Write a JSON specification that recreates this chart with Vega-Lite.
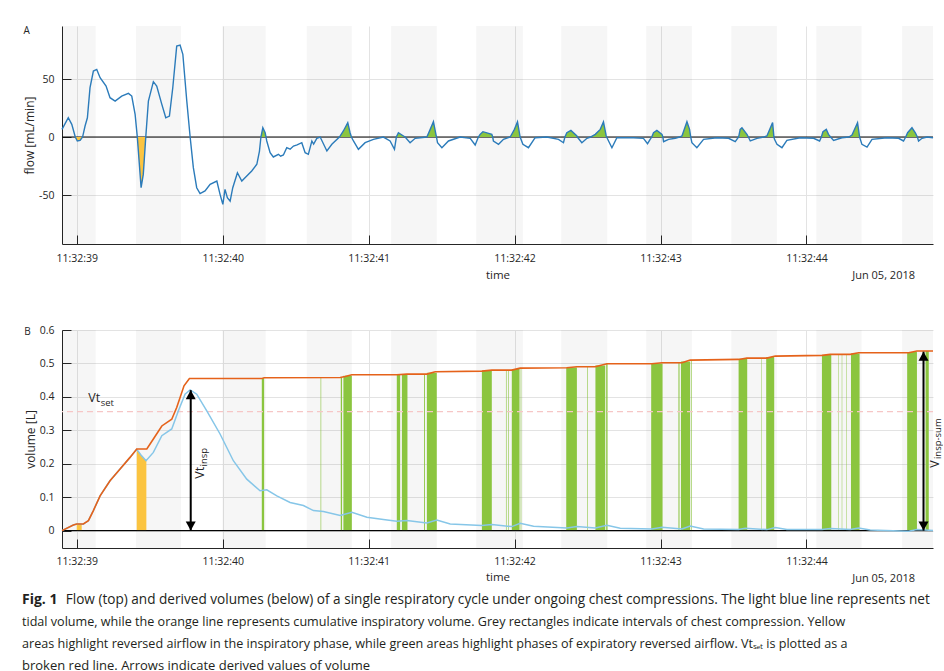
{
"$schema": "https://vega.github.io/schema/vega-lite/v6.json",
"padding": {"left": 22, "top": 25, "right": 0, "bottom": 0},
"background": "white",
"bounds": "flush",
"spacing": 86,
"config": {
 "font": "Open Sans",
 "view": {"stroke": null},
 "axis": {"labelFont": "Open Sans", "titleFont": "Open Sans", "labelColor": "#262626", "titleColor": "#262626", "titleFontWeight": "normal", "domainColor": "#262626", "tickColor": "#262626", "gridColor": "#e3e3e3", "tickSize": -9, "domainWidth": 1, "tickWidth": 1, "labelFontSize": 10.5, "titleFontSize": 11.5, "labelOverlap": false},
 "title": {"font": "Open Sans", "fontWeight": "normal", "fontSize": 10, "color": "#262626", "anchor": "start", "frame": "bounds"}
},
"datasets": {
 "bands": [{"t0":38.899,"t1":39.130},{"t0":39.406,"t1":39.715},{"t0":39.998,"t1":40.295},{"t0":40.576,"t1":40.885},{"t0":41.154,"t1":41.467},{"t0":41.737,"t1":42.057},{"t0":42.319,"t1":42.635},{"t0":42.902,"t1":43.215},{"t0":43.485,"t1":43.798},{"t0":44.067,"t1":44.378},{"t0":44.655,"t1":44.867}],
 "flow": [{"t":38.899,"f":6.6},{"t":38.942,"f":16.6},{"t":38.966,"f":10.9},{"t":38.99,"f":0},{"t":39.004,"f":-3.4},{"t":39.023,"f":-2.9},{"t":39.04,"f":0},{"t":39.057,"f":9.5},{"t":39.073,"f":16.6},{"t":39.091,"f":42.5},{"t":39.114,"f":56.9},{"t":39.137,"f":58.3},{"t":39.16,"f":51.1},{"t":39.201,"f":44},{"t":39.228,"f":33.9},{"t":39.263,"f":31},{"t":39.308,"f":35.3},{"t":39.354,"f":37.6},{"t":39.377,"f":35.3},{"t":39.4,"f":19.5},{"t":39.415,"f":0},{"t":39.441,"f":-43.7},{"t":39.456,"f":-32.2},{"t":39.473,"f":0},{"t":39.491,"f":31},{"t":39.525,"f":47.7},{"t":39.548,"f":44},{"t":39.583,"f":28.2},{"t":39.61,"f":16.6},{"t":39.635,"f":18.1},{"t":39.658,"f":42.5},{"t":39.685,"f":78.4},{"t":39.708,"f":79.3},{"t":39.727,"f":71.3},{"t":39.754,"f":31},{"t":39.777,"f":0},{"t":39.799,"f":-26.4},{"t":39.822,"f":-43.7},{"t":39.845,"f":-48.8},{"t":39.879,"f":-46.5},{"t":39.914,"f":-40.8},{"t":39.96,"f":-37.9},{"t":39.982,"f":-49.4},{"t":40.001,"f":-58},{"t":40.016,"f":-45.1},{"t":40.032,"f":-52.3},{"t":40.051,"f":-55.2},{"t":40.069,"f":-43.7},{"t":40.101,"f":-30.8},{"t":40.131,"f":-37.9},{"t":40.165,"f":-33.6},{"t":40.199,"f":-29.3},{"t":40.234,"f":-23.5},{"t":40.252,"f":-12.1},{"t":40.262,"f":0},{"t":40.275,"f":8},{"t":40.291,"f":3.7},{"t":40.297,"f":0},{"t":40.302,"f":-3.4},{"t":40.325,"f":-13.5},{"t":40.347,"f":-17.2},{"t":40.382,"f":-14.9},{"t":40.397,"f":-16.5},{"t":40.416,"f":-15.5},{"t":40.439,"f":-9.2},{"t":40.462,"f":-10.5},{"t":40.485,"f":-7.8},{"t":40.51,"f":-6.8},{"t":40.542,"f":-4.9},{"t":40.565,"f":-13.5},{"t":40.587,"f":-14.9},{"t":40.611,"f":-3.4},{"t":40.623,"f":-6},{"t":40.645,"f":-1.1},{"t":40.668,"f":0},{"t":40.714,"f":-12},{"t":40.748,"f":-6.3},{"t":40.8,"f":0},{"t":40.827,"f":5.2},{"t":40.857,"f":12.4},{"t":40.873,"f":3.7},{"t":40.882,"f":0},{"t":40.896,"f":-3.4},{"t":40.93,"f":-10.6},{"t":40.976,"f":-4.9},{"t":41.033,"f":-2},{"t":41.101,"f":0},{"t":41.147,"f":-3.4},{"t":41.177,"f":-10.6},{"t":41.19,"f":0},{"t":41.204,"f":3.7},{"t":41.239,"f":0.9},{"t":41.25,"f":0},{"t":41.284,"f":-4.9},{"t":41.319,"f":-1.1},{"t":41.399,"f":0},{"t":41.422,"f":6.6},{"t":41.444,"f":13.2},{"t":41.461,"f":2.3},{"t":41.465,"f":0},{"t":41.472,"f":-4.9},{"t":41.502,"f":-9.2},{"t":41.547,"f":-3.4},{"t":41.627,"f":0},{"t":41.696,"f":-1.1},{"t":41.73,"f":-6.9},{"t":41.752,"f":0},{"t":41.764,"f":2.3},{"t":41.783,"f":4.6},{"t":41.844,"f":2.3},{"t":41.85,"f":0},{"t":41.855,"f":-3.4},{"t":41.89,"f":-6.3},{"t":41.924,"f":-2},{"t":41.97,"f":0},{"t":41.999,"f":6.6},{"t":42.02,"f":13.2},{"t":42.038,"f":0},{"t":42.057,"f":-6.3},{"t":42.095,"f":-9.2},{"t":42.141,"f":-0.6},{"t":42.221,"f":0},{"t":42.301,"f":-2},{"t":42.335,"f":-4.9},{"t":42.345,"f":0},{"t":42.358,"f":3.7},{"t":42.386,"f":5.7},{"t":42.427,"f":0.9},{"t":42.43,"f":0},{"t":42.461,"f":-4.9},{"t":42.496,"f":-1.1},{"t":42.52,"f":0},{"t":42.553,"f":2.3},{"t":42.587,"f":6.6},{"t":42.609,"f":13},{"t":42.628,"f":0.9},{"t":42.631,"f":0},{"t":42.644,"f":-3.4},{"t":42.667,"f":-9.2},{"t":42.701,"f":-0.6},{"t":42.815,"f":-0.6},{"t":42.883,"f":-1.1},{"t":42.911,"f":-5.7},{"t":42.929,"f":-2},{"t":42.94,"f":0},{"t":42.952,"f":3.7},{"t":42.975,"f":5.7},{"t":43.01,"f":2.3},{"t":43.016,"f":0},{"t":43.021,"f":-4},{"t":43.055,"f":-2},{"t":43.101,"f":-1.1},{"t":43.13,"f":0},{"t":43.147,"f":0.9},{"t":43.181,"f":13.2},{"t":43.199,"f":6.6},{"t":43.207,"f":0},{"t":43.215,"f":-4.9},{"t":43.249,"f":-9.2},{"t":43.295,"f":-2},{"t":43.387,"f":-0.6},{"t":43.466,"f":-1.1},{"t":43.512,"f":-4},{"t":43.535,"f":0},{"t":43.546,"f":6.6},{"t":43.558,"f":8},{"t":43.592,"f":2.3},{"t":43.602,"f":0},{"t":43.615,"f":-3.4},{"t":43.661,"f":-1.1},{"t":43.71,"f":0},{"t":43.729,"f":0.9},{"t":43.768,"f":12.4},{"t":43.777,"f":0},{"t":43.781,"f":-2},{"t":43.798,"f":-6.3},{"t":43.832,"f":-9.2},{"t":43.866,"f":-2.9},{"t":43.958,"f":-0.6},{"t":44.049,"f":-1.1},{"t":44.09,"f":-3.4},{"t":44.102,"f":0},{"t":44.113,"f":4.6},{"t":44.136,"f":6.6},{"t":44.151,"f":2.3},{"t":44.165,"f":0},{"t":44.186,"f":-2.9},{"t":44.243,"f":-0.6},{"t":44.29,"f":0},{"t":44.312,"f":1.7},{"t":44.35,"f":12.4},{"t":44.364,"f":0},{"t":44.38,"f":-6.3},{"t":44.415,"f":-8.6},{"t":44.449,"f":-2},{"t":44.552,"f":-0.6},{"t":44.631,"f":-1.1},{"t":44.665,"f":-3.4},{"t":44.68,"f":0},{"t":44.693,"f":3.7},{"t":44.723,"f":8},{"t":44.746,"f":3.7},{"t":44.76,"f":0},{"t":44.768,"f":-3.4},{"t":44.792,"f":-1.1},{"t":44.826,"f":0},{"t":44.867,"f":-0.6}],
 "fillA": [
  {"seg":"y1","kind":"insp","t":38.99,"v":0},{"seg":"y1","kind":"insp","t":39.004,"v":-3.4},{"seg":"y1","kind":"insp","t":39.023,"v":-2.9},{"seg":"y1","kind":"insp","t":39.04,"v":0},
  {"seg":"y2","kind":"insp","t":39.415,"v":0},{"seg":"y2","kind":"insp","t":39.441,"v":-43.7},{"seg":"y2","kind":"insp","t":39.456,"v":-32.2},{"seg":"y2","kind":"insp","t":39.473,"v":0},
  {"seg":"g1","kind":"exp","t":40.262,"v":0},{"seg":"g1","kind":"exp","t":40.275,"v":8},{"seg":"g1","kind":"exp","t":40.291,"v":3.7},{"seg":"g1","kind":"exp","t":40.297,"v":0},
  {"seg":"g2","kind":"exp","t":40.8,"v":0},{"seg":"g2","kind":"exp","t":40.827,"v":5.2},{"seg":"g2","kind":"exp","t":40.857,"v":12.4},{"seg":"g2","kind":"exp","t":40.873,"v":3.7},{"seg":"g2","kind":"exp","t":40.882,"v":0},
  {"seg":"g3","kind":"exp","t":41.19,"v":0},{"seg":"g3","kind":"exp","t":41.204,"v":3.7},{"seg":"g3","kind":"exp","t":41.239,"v":0.9},{"seg":"g3","kind":"exp","t":41.25,"v":0},
  {"seg":"g4","kind":"exp","t":41.399,"v":0},{"seg":"g4","kind":"exp","t":41.422,"v":6.6},{"seg":"g4","kind":"exp","t":41.444,"v":13.2},{"seg":"g4","kind":"exp","t":41.461,"v":2.3},{"seg":"g4","kind":"exp","t":41.465,"v":0},
  {"seg":"g5","kind":"exp","t":41.752,"v":0},{"seg":"g5","kind":"exp","t":41.764,"v":2.3},{"seg":"g5","kind":"exp","t":41.783,"v":4.6},{"seg":"g5","kind":"exp","t":41.844,"v":2.3},{"seg":"g5","kind":"exp","t":41.85,"v":0},
  {"seg":"g6","kind":"exp","t":41.97,"v":0},{"seg":"g6","kind":"exp","t":41.999,"v":6.6},{"seg":"g6","kind":"exp","t":42.02,"v":13.2},{"seg":"g6","kind":"exp","t":42.038,"v":0},
  {"seg":"g7","kind":"exp","t":42.345,"v":0},{"seg":"g7","kind":"exp","t":42.358,"v":3.7},{"seg":"g7","kind":"exp","t":42.386,"v":5.7},{"seg":"g7","kind":"exp","t":42.427,"v":0.9},{"seg":"g7","kind":"exp","t":42.43,"v":0},
  {"seg":"g8","kind":"exp","t":42.52,"v":0},{"seg":"g8","kind":"exp","t":42.553,"v":2.3},{"seg":"g8","kind":"exp","t":42.587,"v":6.6},{"seg":"g8","kind":"exp","t":42.609,"v":13},{"seg":"g8","kind":"exp","t":42.628,"v":0.9},{"seg":"g8","kind":"exp","t":42.631,"v":0},
  {"seg":"g9","kind":"exp","t":42.94,"v":0},{"seg":"g9","kind":"exp","t":42.952,"v":3.7},{"seg":"g9","kind":"exp","t":42.975,"v":5.7},{"seg":"g9","kind":"exp","t":43.01,"v":2.3},{"seg":"g9","kind":"exp","t":43.016,"v":0},
  {"seg":"g10","kind":"exp","t":43.13,"v":0},{"seg":"g10","kind":"exp","t":43.147,"v":0.9},{"seg":"g10","kind":"exp","t":43.181,"v":13.2},{"seg":"g10","kind":"exp","t":43.199,"v":6.6},{"seg":"g10","kind":"exp","t":43.207,"v":0},
  {"seg":"g11","kind":"exp","t":43.535,"v":0},{"seg":"g11","kind":"exp","t":43.546,"v":6.6},{"seg":"g11","kind":"exp","t":43.558,"v":8},{"seg":"g11","kind":"exp","t":43.592,"v":2.3},{"seg":"g11","kind":"exp","t":43.602,"v":0},
  {"seg":"g12","kind":"exp","t":43.71,"v":0},{"seg":"g12","kind":"exp","t":43.729,"v":0.9},{"seg":"g12","kind":"exp","t":43.768,"v":12.4},{"seg":"g12","kind":"exp","t":43.777,"v":0},
  {"seg":"g13","kind":"exp","t":44.102,"v":0},{"seg":"g13","kind":"exp","t":44.113,"v":4.6},{"seg":"g13","kind":"exp","t":44.136,"v":6.6},{"seg":"g13","kind":"exp","t":44.151,"v":2.3},{"seg":"g13","kind":"exp","t":44.165,"v":0},
  {"seg":"g14","kind":"exp","t":44.29,"v":0},{"seg":"g14","kind":"exp","t":44.312,"v":1.7},{"seg":"g14","kind":"exp","t":44.35,"v":12.4},{"seg":"g14","kind":"exp","t":44.364,"v":0},
  {"seg":"g15","kind":"exp","t":44.68,"v":0},{"seg":"g15","kind":"exp","t":44.693,"v":3.7},{"seg":"g15","kind":"exp","t":44.723,"v":8},{"seg":"g15","kind":"exp","t":44.746,"v":3.7},{"seg":"g15","kind":"exp","t":44.76,"v":0}
 ],
 "orange": [{"t":38.899,"v":0},{"t":38.977,"v":0.017},{"t":39.0,"v":0.02},{"t":39.045,"v":0.02},{"t":39.08,"v":0.03},{"t":39.114,"v":0.06},{"t":39.16,"v":0.104},{"t":39.228,"v":0.149},{"t":39.297,"v":0.184},{"t":39.365,"v":0.219},{"t":39.411,"v":0.244},{"t":39.48,"v":0.244},{"t":39.525,"v":0.274},{"t":39.583,"v":0.313},{"t":39.651,"v":0.333},{"t":39.685,"v":0.368},{"t":39.735,"v":0.433},{"t":39.772,"v":0.455},{"t":40.27,"v":0.455},{"t":40.284,"v":0.457},{"t":40.805,"v":0.458},{"t":40.839,"v":0.461},{"t":40.885,"v":0.466},{"t":41.193,"v":0.466},{"t":41.262,"v":0.468},{"t":41.399,"v":0.468},{"t":41.456,"v":0.475},{"t":41.776,"v":0.477},{"t":41.844,"v":0.48},{"t":41.981,"v":0.48},{"t":42.038,"v":0.486},{"t":42.358,"v":0.487},{"t":42.427,"v":0.49},{"t":42.552,"v":0.49},{"t":42.633,"v":0.499},{"t":42.941,"v":0.499},{"t":43.01,"v":0.502},{"t":43.147,"v":0.502},{"t":43.203,"v":0.51},{"t":43.535,"v":0.512},{"t":43.592,"v":0.516},{"t":43.729,"v":0.516},{"t":43.786,"v":0.522},{"t":44.106,"v":0.524},{"t":44.163,"v":0.527},{"t":44.3,"v":0.527},{"t":44.357,"v":0.532},{"t":44.7,"v":0.532},{"t":44.757,"v":0.537},{"t":44.867,"v":0.537}],
 "blue": [{"t":38.899,"v":0},{"t":38.977,"v":0.017},{"t":39.0,"v":0.02},{"t":39.045,"v":0.019},{"t":39.08,"v":0.03},{"t":39.114,"v":0.06},{"t":39.16,"v":0.104},{"t":39.228,"v":0.149},{"t":39.297,"v":0.184},{"t":39.365,"v":0.219},{"t":39.411,"v":0.243},{"t":39.44,"v":0.226},{"t":39.475,"v":0.209},{"t":39.525,"v":0.234},{"t":39.583,"v":0.284},{"t":39.651,"v":0.304},{"t":39.696,"v":0.358},{"t":39.742,"v":0.408},{"t":39.777,"v":0.421},{"t":39.822,"v":0.408},{"t":39.891,"v":0.358},{"t":39.982,"v":0.289},{"t":40.073,"v":0.209},{"t":40.165,"v":0.154},{"t":40.256,"v":0.119},{"t":40.302,"v":0.122},{"t":40.371,"v":0.104},{"t":40.462,"v":0.084},{"t":40.553,"v":0.075},{"t":40.622,"v":0.06},{"t":40.69,"v":0.057},{"t":40.805,"v":0.045},{"t":40.885,"v":0.055},{"t":40.988,"v":0.04},{"t":41.101,"v":0.033},{"t":41.193,"v":0.028},{"t":41.262,"v":0.03},{"t":41.399,"v":0.023},{"t":41.467,"v":0.032},{"t":41.559,"v":0.02},{"t":41.776,"v":0.015},{"t":41.844,"v":0.018},{"t":41.981,"v":0.012},{"t":42.038,"v":0.022},{"t":42.13,"v":0.013},{"t":42.358,"v":0.008},{"t":42.427,"v":0.012},{"t":42.552,"v":0.008},{"t":42.633,"v":0.016},{"t":42.724,"v":0.007},{"t":42.941,"v":0.005},{"t":43.01,"v":0.01},{"t":43.147,"v":0.005},{"t":43.203,"v":0.014},{"t":43.295,"v":0.005},{"t":43.535,"v":0.003},{"t":43.581,"v":0.007},{"t":43.729,"v":0.003},{"t":43.786,"v":0.009},{"t":43.866,"v":0.003},{"t":44.106,"v":0.003},{"t":44.163,"v":0.006},{"t":44.3,"v":0.003},{"t":44.357,"v":0.008},{"t":44.437,"v":0.002},{"t":44.7,"v":-0.002},{"t":44.757,"v":0.003},{"t":44.867,"v":0}],
 "greenB": [{"t0":40.268,"t1":40.284,"top":0.456},{"t0":40.671,"t1":40.675,"top":0.457},{"t0":40.809,"t1":40.818,"top":0.458},{"t0":40.827,"t1":40.885,"top":0.463},{"t0":41.193,"t1":41.216,"top":0.466},{"t0":41.228,"t1":41.266,"top":0.467},{"t0":41.38,"t1":41.386,"top":0.468},{"t0":41.399,"t1":41.467,"top":0.472},{"t0":41.776,"t1":41.844,"top":0.478},{"t0":41.941,"t1":41.945,"top":0.48},{"t0":41.956,"t1":41.96,"top":0.48},{"t0":41.981,"t1":42.034,"top":0.483},{"t0":42.042,"t1":42.046,"top":0.486},{"t0":42.354,"t1":42.427,"top":0.488},{"t0":42.498,"t1":42.502,"top":0.49},{"t0":42.554,"t1":42.621,"top":0.494},{"t0":42.628,"t1":42.637,"top":0.499},{"t0":42.936,"t1":43.014,"top":0.5},{"t0":43.123,"t1":43.13,"top":0.502},{"t0":43.14,"t1":43.203,"top":0.506},{"t0":43.209,"t1":43.213,"top":0.51},{"t0":43.535,"t1":43.594,"top":0.514},{"t0":43.69,"t1":43.693,"top":0.516},{"t0":43.724,"t1":43.779,"top":0.519},{"t0":44.106,"t1":44.17,"top":0.525},{"t0":44.219,"t1":44.222,"top":0.527},{"t0":44.242,"t1":44.245,"top":0.527},{"t0":44.272,"t1":44.275,"top":0.527},{"t0":44.305,"t1":44.364,"top":0.53},{"t0":44.69,"t1":44.757,"top":0.534},{"t0":44.816,"t1":44.838,"top":0.537}],
 "yellowB": [{"seg":"a","t":39.0,"v":0.02},{"seg":"a","t":39.034,"v":0.02},{"seg":"b","t":39.411,"v":0.244},{"seg":"b","t":39.44,"v":0.226},{"seg":"b","t":39.477,"v":0.209}],
 "arrows": [{"t":39.781,"v":0.42},{"t":44.802,"v":0.535}],
 "caption": [{"line":1,"part":"bold","text":"Fig. 1"},{"line":1,"part":"rest","text":"Flow (top) and derived volumes (below) of a single respiratory cycle under ongoing chest compressions. The light blue line represents net"},{"line":2,"part":"body","text":"tidal volume, while the orange line represents cumulative inspiratory volume. Grey rectangles indicate intervals of chest compression. Yellow"},{"line":3,"part":"body","text":"areas highlight reversed airflow in the inspiratory phase, while green areas highlight phases of expiratory reversed airflow. Vtₛₑₜ is plotted as a"},{"line":4,"part":"body","text":"broken red line. Arrows indicate derived values of volume"}]
},
"vconcat": [
 {
  "width": 871, "height": 218,
  "title": {"text": "A", "offset": -9.5},
  "layer": [
   {"data": {"name": "bands"}, "mark": {"type": "rect", "fill": "#000000", "fillOpacity": 0.035},
    "encoding": {"x": {"field": "t0", "type": "quantitative", "title": "time", "scale": {"domain": [38.899, 44.867], "nice": false, "zero": false}, "axis": {"values": [39,40,41,42,43,44], "labelExpr": "'11:32:' + datum.value", "title": "time", "grid": true, "labelPadding": 18, "titlePadding": 6}}, "x2": {"field": "t1"}}},
   {"data": {"values": [{}]}, "mark": {"type": "rule", "color": "#000000", "strokeWidth": 1},
    "encoding": {"y": {"datum": 0, "type": "quantitative", "title": "flow [mL/min]", "scale": {"domain": [-92.2, 95.7], "nice": false, "zero": false}, "axis": {"values": [-50,0,50], "labelExpr": "'' + datum.value", "title": "flow [mL/min]", "grid": true, "labelPadding": 17, "titlePadding": 2, "titleFontSize": 12}}}},
   {"data": {"name": "fillA"}, "mark": {"type": "area"},
    "encoding": {"x": {"field": "t", "type": "quantitative", "title": "time", "scale": {"domain": [38.899, 44.867], "nice": false, "zero": false}}, "y": {"field": "v", "type": "quantitative", "stack": null, "title": "flow [mL/min]", "scale": {"domain": [-92.2, 95.7], "nice": false, "zero": false}}, "y2": {"datum": 0}, "detail": {"field": "seg"}, "color": {"field": "kind", "type": "nominal", "scale": {"domain": ["insp", "exp"], "range": ["#fbc440", "#8bc53f"]}, "legend": null}}},
   {"data": {"name": "flow"}, "mark": {"type": "line", "color": "#2b7bba", "strokeWidth": 1.4},
    "encoding": {"x": {"field": "t", "type": "quantitative", "title": "time", "scale": {"domain": [38.899, 44.867], "nice": false, "zero": false}}, "y": {"field": "f", "type": "quantitative", "title": "flow [mL/min]", "scale": {"domain": [-92.2, 95.7], "nice": false, "zero": false}}}},
   {"data": {"values": [{}]}, "mark": {"type": "text", "text": "Jun 05, 2018", "align": "right", "baseline": "alphabetic", "dx": -18, "fontSize": 11, "color": "#262626"},
    "encoding": {"x": {"datum": 44.867, "type": "quantitative"}, "y": {"datum": -122.7, "type": "quantitative"}}}
  ]
 },
 {
  "width": 871, "height": 218,
  "title": {"text": "B", "offset": -11.8},
  "layer": [
   {"data": {"name": "bands"}, "mark": {"type": "rect", "fill": "#000000", "fillOpacity": 0.035},
    "encoding": {"x": {"field": "t0", "type": "quantitative", "title": "time", "scale": {"domain": [38.899, 44.867], "nice": false, "zero": false}, "axis": {"values": [39,40,41,42,43,44], "labelExpr": "'11:32:' + datum.value", "title": "time", "grid": true, "labelPadding": 17, "titlePadding": 5}}, "x2": {"field": "t1"}}},
   {"data": {"values": [{}]}, "mark": {"type": "rule", "color": "#000000", "strokeWidth": 1},
    "encoding": {"y": {"datum": 0, "type": "quantitative", "title": "volume [L]", "scale": {"domain": [-0.052, 0.6], "nice": false, "zero": false}, "axis": {"values": [0,0.1,0.2,0.3,0.4,0.5,0.6], "tickCount": 7, "labelExpr": "'' + datum.value", "title": "volume [L]", "grid": true, "labelOverlap": false, "labelPadding": 17, "titlePadding": 2, "titleFontSize": 12}}}},
   {"data": {"name": "greenB"}, "mark": {"type": "rect", "color": "#8bc53f"},
    "encoding": {"x": {"field": "t0", "type": "quantitative", "title": "time", "scale": {"domain": [38.899, 44.867], "nice": false, "zero": false}}, "x2": {"field": "t1"}, "y": {"field": "top", "type": "quantitative", "title": "volume [L]", "scale": {"domain": [-0.052, 0.6], "nice": false, "zero": false}}, "y2": {"datum": 0}}},
   {"data": {"name": "yellowB"}, "mark": {"type": "area", "color": "#fbc440"},
    "encoding": {"x": {"field": "t", "type": "quantitative", "title": "time", "scale": {"domain": [38.899, 44.867], "nice": false, "zero": false}}, "y": {"field": "v", "type": "quantitative", "stack": null, "title": "volume [L]", "scale": {"domain": [-0.052, 0.6], "nice": false, "zero": false}}, "y2": {"datum": 0}, "detail": {"field": "seg"}}},
   {"data": {"values": [{}]}, "mark": {"type": "rule", "color": "#f6c6c6", "strokeWidth": 1.3, "strokeDash": [6, 4]},
    "encoding": {"y": {"datum": 0.356, "type": "quantitative", "title": "volume [L]", "scale": {"domain": [-0.052, 0.6], "nice": false, "zero": false}}}},
   {"data": {"values": [{}]}, "mark": {"type": "rule", "color": "#000000", "strokeWidth": 1},
    "encoding": {"y": {"datum": 0, "type": "quantitative", "title": "volume [L]", "scale": {"domain": [-0.052, 0.6], "nice": false, "zero": false}}}},
   {"data": {"name": "blue"}, "mark": {"type": "line", "color": "#86c6e8", "strokeWidth": 1.5},
    "encoding": {"x": {"field": "t", "type": "quantitative", "title": "time", "scale": {"domain": [38.899, 44.867], "nice": false, "zero": false}}, "y": {"field": "v", "type": "quantitative", "title": "volume [L]", "scale": {"domain": [-0.052, 0.6], "nice": false, "zero": false}}}},
   {"data": {"name": "orange"}, "mark": {"type": "line", "color": "#e5621a", "strokeWidth": 1.6},
    "encoding": {"x": {"field": "t", "type": "quantitative", "title": "time", "scale": {"domain": [38.899, 44.867], "nice": false, "zero": false}}, "y": {"field": "v", "type": "quantitative", "title": "volume [L]", "scale": {"domain": [-0.052, 0.6], "nice": false, "zero": false}}}},
   {"data": {"name": "arrows"}, "mark": {"type": "rule", "color": "#000000", "strokeWidth": 2},
    "encoding": {"x": {"field": "t", "type": "quantitative", "title": "time"}, "y": {"field": "v", "type": "quantitative", "title": "volume [L]"}, "y2": {"datum": 0}}},
   {"data": {"name": "arrows"}, "mark": {"type": "point", "shape": "M0,0L-1,1.8L1,1.8Z", "filled": true, "color": "#000000", "size": 100, "opacity": 1},
    "encoding": {"x": {"field": "t", "type": "quantitative", "title": "time"}, "y": {"field": "v", "type": "quantitative", "title": "volume [L]"}}},
   {"data": {"name": "arrows"}, "mark": {"type": "point", "shape": "M0,0L-1,-1.8L1,-1.8Z", "filled": true, "color": "#000000", "size": 100, "opacity": 1},
    "encoding": {"x": {"field": "t", "type": "quantitative", "title": "time"}, "y": {"datum": 0, "type": "quantitative", "title": "volume [L]"}}},
   {"data": {"values": [{}]}, "mark": {"type": "text", "text": "Vt", "align": "left", "baseline": "alphabetic", "fontSize": 12.5, "color": "#262626"},
    "encoding": {"x": {"datum": 39.0795, "type": "quantitative"}, "y": {"datum": 0.3855, "type": "quantitative"}}},
   {"data": {"values": [{}]}, "mark": {"type": "text", "text": "set", "align": "left", "baseline": "alphabetic", "fontSize": 9.5, "color": "#262626"},
    "encoding": {"x": {"datum": 39.1645, "type": "quantitative"}, "y": {"datum": 0.3727, "type": "quantitative"}}},
   {"data": {"values": [{}]}, "mark": {"type": "text", "text": "Vt", "angle": 270, "align": "left", "baseline": "alphabetic", "fontSize": 12.5, "color": "#262626"},
    "encoding": {"x": {"datum": 39.8725, "type": "quantitative"}, "y": {"datum": 0.155, "type": "quantitative"}}},
   {"data": {"values": [{}]}, "mark": {"type": "text", "text": "insp", "angle": 270, "align": "left", "baseline": "alphabetic", "fontSize": 9.5, "color": "#262626"},
    "encoding": {"x": {"datum": 39.894, "type": "quantitative"}, "y": {"datum": 0.192, "type": "quantitative"}}},
   {"data": {"values": [{}]}, "mark": {"type": "text", "text": "V", "angle": 270, "align": "left", "baseline": "alphabetic", "fontSize": 12.5, "color": "#262626"},
    "encoding": {"x": {"datum": 44.908, "type": "quantitative"}, "y": {"datum": 0.188, "type": "quantitative"}}},
   {"data": {"values": [{}]}, "mark": {"type": "text", "text": "insp-sum", "angle": 270, "align": "left", "baseline": "alphabetic", "fontSize": 9.5, "color": "#262626"},
    "encoding": {"x": {"datum": 44.922, "type": "quantitative"}, "y": {"datum": 0.214, "type": "quantitative"}}},
   {"data": {"values": [{}]}, "mark": {"type": "text", "text": "Jun 05, 2018", "align": "right", "baseline": "alphabetic", "dx": -18, "fontSize": 11, "color": "#262626"},
    "encoding": {"x": {"datum": 44.867, "type": "quantitative"}, "y": {"datum": -0.154, "type": "quantitative"}}}
  ]
 },
 {
  "width": 871, "height": 38,
  "data": {"name": "caption"},
  "encoding": {"y": {"field": "line", "type": "quantitative", "scale": {"domain": [2.3484, 4.0679], "reverse": true, "nice": false, "zero": false}, "axis": null}, "text": {"field": "text"}},
  "layer": [
   {"transform": [{"filter": "datum.part == 'bold'"}], "mark": {"type": "text", "align": "left", "baseline": "alphabetic", "fontWeight": "bold", "fontSize": 14, "x": 0, "dx": -40, "color": "#231f20"}},
   {"transform": [{"filter": "datum.part == 'rest'"}], "mark": {"type": "text", "align": "left", "baseline": "alphabetic", "fontSize": 13.6, "x": 0, "dx": 3.7, "color": "#231f20"}},
   {"transform": [{"filter": "datum.line == 2 || datum.line == 3"}], "mark": {"type": "text", "align": "left", "baseline": "alphabetic", "fontSize": 12.6, "x": 0, "dx": -40, "color": "#231f20"}},
   {"transform": [{"filter": "datum.line == 4"}], "mark": {"type": "text", "align": "left", "baseline": "alphabetic", "fontSize": 13, "x": 0, "dx": -40, "color": "#231f20"}}
  ]
 }
]
}
